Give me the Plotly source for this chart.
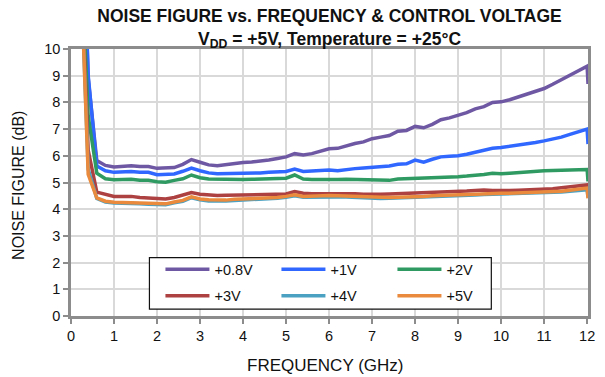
import plotly.graph_objects as go

# Frequency sweep (GHz)
freq_ghz = [0.25, 0.4,
            0.6, 0.8, 1.0, 1.2, 1.4, 1.6, 1.8, 2.0, 2.2, 2.4,
            2.6, 2.8, 3.0, 3.2, 3.4, 3.6, 3.8, 4.0, 4.2, 4.4,
            4.6, 4.8, 5.0, 5.2, 5.4, 5.6, 5.8, 6.0, 6.2, 6.4,
            6.6, 6.8, 7.0, 7.2, 7.4, 7.6, 7.8, 8.0, 8.2, 8.4,
            8.6, 8.8, 9.0, 9.2, 9.4, 9.6, 9.8, 10.0, 10.2, 10.4,
            10.6, 10.8, 11.0, 11.2, 11.4, 11.6, 11.8, 12.0,
            12.02]

# Noise figure (dB) per control voltage
nf_0v8 = [16.0, 8.9,
          5.82, 5.64, 5.58, 5.60, 5.63, 5.60, 5.60, 5.53, 5.54, 5.56,
          5.68, 5.86, 5.76, 5.66, 5.63, 5.68, 5.70, 5.75, 5.77, 5.80,
          5.84, 5.90, 5.96, 6.08, 6.03, 6.08, 6.18, 6.26, 6.28, 6.38,
          6.46, 6.52, 6.64, 6.70, 6.76, 6.92, 6.95, 7.10, 7.05, 7.18,
          7.35, 7.42, 7.52, 7.62, 7.76, 7.84, 8.00, 8.02, 8.10, 8.20,
          8.30, 8.42, 8.52, 8.68, 8.85, 9.02, 9.20, 9.36,
          8.69]
nf_1v = [16.5, 9.0,
         5.62, 5.44, 5.38, 5.40, 5.41, 5.38, 5.38, 5.29, 5.30, 5.32,
         5.42, 5.54, 5.44, 5.36, 5.33, 5.33, 5.34, 5.35, 5.35, 5.36,
         5.38, 5.39, 5.41, 5.50, 5.41, 5.43, 5.45, 5.47, 5.44, 5.49,
         5.52, 5.54, 5.56, 5.59, 5.62, 5.68, 5.70, 5.84, 5.76, 5.87,
         5.96, 5.98, 6.00, 6.06, 6.14, 6.20, 6.28, 6.31, 6.35, 6.40,
         6.45, 6.50, 6.56, 6.62, 6.70, 6.80, 6.90, 7.00,
         6.44]
nf_2v = [12.9, 7.5,
         5.35, 5.14, 5.10, 5.11, 5.12, 5.08, 5.08, 5.03, 5.01, 5.08,
         5.14, 5.28, 5.18, 5.13, 5.12, 5.12, 5.11, 5.11, 5.12, 5.13,
         5.14, 5.14, 5.16, 5.28, 5.13, 5.11, 5.10, 5.10, 5.11, 5.12,
         5.11, 5.09, 5.08, 5.08, 5.08, 5.13, 5.14, 5.14, 5.16, 5.19,
         5.20, 5.21, 5.22, 5.24, 5.26, 5.30, 5.35, 5.33, 5.35, 5.38,
         5.40, 5.42, 5.44, 5.45, 5.46, 5.47, 5.48, 5.49,
         5.04]
nf_3v = [12.5, 6.2,
         4.64, 4.55, 4.48, 4.48, 4.48, 4.44, 4.42, 4.40, 4.38, 4.44,
         4.52, 4.62, 4.56, 4.52, 4.51, 4.52, 4.53, 4.54, 4.54, 4.55,
         4.56, 4.56, 4.57, 4.66, 4.60, 4.58, 4.58, 4.58, 4.60, 4.60,
         4.58, 4.56, 4.55, 4.56, 4.57, 4.58, 4.59, 4.60, 4.60, 4.63,
         4.64, 4.65, 4.66, 4.68, 4.70, 4.72, 4.70, 4.69, 4.70, 4.71,
         4.72, 4.73, 4.75, 4.77, 4.80, 4.84, 4.88, 4.91,
         4.70]
nf_4v = [12.0, 5.5,
         4.40, 4.27, 4.23, 4.23, 4.22, 4.20, 4.19, 4.18, 4.17, 4.24,
         4.30, 4.43, 4.35, 4.31, 4.30, 4.31, 4.33, 4.34, 4.35, 4.36,
         4.37, 4.41, 4.45, 4.50, 4.45, 4.46, 4.47, 4.47, 4.46, 4.46,
         4.44, 4.42, 4.40, 4.40, 4.41, 4.42, 4.42, 4.43, 4.45, 4.47,
         4.49, 4.50, 4.51, 4.52, 4.53, 4.55, 4.56, 4.57, 4.57, 4.58,
         4.58, 4.59, 4.59, 4.61, 4.64, 4.67, 4.70, 4.73,
         4.45]
nf_5v = [12.0, 5.3,
         4.42, 4.30, 4.26, 4.26, 4.26, 4.23, 4.22, 4.22, 4.20, 4.27,
         4.33, 4.46, 4.38, 4.35, 4.33, 4.34, 4.37, 4.38, 4.38, 4.39,
         4.40, 4.44, 4.48, 4.54, 4.48, 4.50, 4.50, 4.51, 4.50, 4.49,
         4.48, 4.45, 4.43, 4.43, 4.44, 4.45, 4.45, 4.46, 4.48, 4.50,
         4.52, 4.53, 4.54, 4.55, 4.56, 4.58, 4.59, 4.60, 4.60, 4.61,
         4.61, 4.62, 4.62, 4.64, 4.67, 4.71, 4.75, 4.79,
         4.41]

series_names = ["+0.8V", "+1V", "+2V", "+3V", "+4V", "+5V"]
series_values = [nf_0v8, nf_1v, nf_2v, nf_3v, nf_4v, nf_5v]
series_colors = ["#6F58A3", "#3068FF", "#2F9A62", "#AD4141", "#4BA1C2", "#E98A3C"]
# first row of the key holds the first three series, second row the rest
series_legend = ["legend", "legend", "legend", "legend2", "legend2", "legend2"]

x_ticks = list(range(0, 13))
y_ticks = list(range(0, 11))

FONT = "Liberation Sans, Arial, sans-serif"
AXIS_GREY = "#8C8C8C"
GRID_GREY = "#D9D9D9"
TEXT = "#111111"

fig = go.Figure()
for name, vals, color, lg in zip(series_names, series_values, series_colors, series_legend):
    fig.add_trace(go.Scatter(
        x=freq_ghz, y=vals, name=name, mode="lines",
        line=dict(color=color, width=3.5),
        legend=lg,
    ))

common_axis = dict(
    showline=True, linecolor=AXIS_GREY, linewidth=2.5, mirror=True,
    showgrid=True, gridcolor=GRID_GREY, gridwidth=1.5,
    ticks="outside", ticklen=5, tickwidth=2, tickcolor=AXIS_GREY,
    tickfont=dict(family=FONT, size=14.5, color=TEXT),
    zeroline=False, fixedrange=True,
)

fig.update_xaxes(range=[0, 12.02], tickvals=x_ticks,
                 ticktext=[str(v) for v in x_ticks], **common_axis)
fig.update_yaxes(range=[0, 10], tickvals=y_ticks,
                 ticktext=[str(v) for v in y_ticks], **common_axis)

legend_style = dict(
    orientation="h", xanchor="left", yanchor="middle",
    bgcolor="rgba(0,0,0,0)", borderwidth=0,
    font=dict(family=FONT, size=14.5, color=TEXT),
    itemwidth=44, entrywidth=57, entrywidthmode="pixels",
    itemclick=False, itemdoubleclick=False,
)

fig.update_layout(
    width=605, height=377,
    margin=dict(l=71, r=10, t=49, b=61),
    paper_bgcolor="white", plot_bgcolor="white",
    title=dict(
        text="NOISE FIGURE vs. FREQUENCY & CONTROL VOLTAGE<br>V<sub>DD</sub> = +5V, Temperature = +25°C",
        font=dict(family=FONT, size=17.5, color=TEXT, weight="bold"),
        x=0.5, xref="paper", xanchor="center",
        y=1 - 22 / 377, yref="container", yanchor="middle",
    ),
    legend=dict(x=0.173, y=0.175, **legend_style),
    legend2=dict(x=0.173, y=0.076, **legend_style),
    shapes=[dict(
        type="rect", xref="paper", yref="paper",
        x0=0.1517, x1=0.813, y0=0.026, y1=0.219,
        line=dict(color=TEXT, width=1.2), fillcolor="white", layer="above",
    )],
    annotations=[
        # axis titles
        dict(text="FREQUENCY (GHz)", xref="paper", yref="paper",
             x=0.492, y=-0.185, xanchor="center", yanchor="middle",
             showarrow=False, font=dict(family=FONT, size=17, color=TEXT)),
        dict(text="NOISE FIGURE (dB)", xref="paper", yref="paper",
             x=-0.103, y=0.49, xanchor="center", yanchor="middle", textangle=-90,
             showarrow=False, font=dict(family=FONT, size=16, color=TEXT)),
    ],
    showlegend=True,
)

fig.write_html("out.html", config={"displayModeBar": False})
